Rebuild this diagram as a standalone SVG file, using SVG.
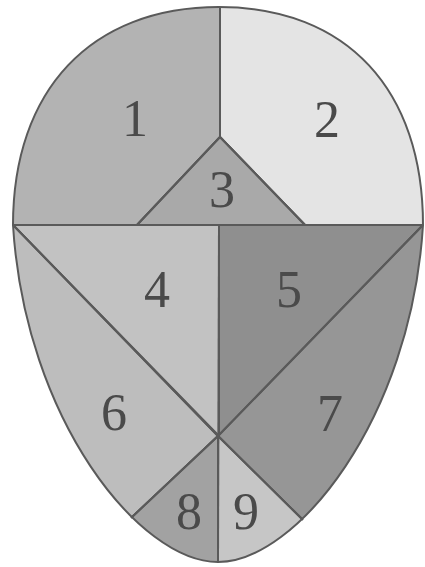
<svg xmlns="http://www.w3.org/2000/svg" width="425" height="567" viewBox="0 0 425 567">
<style>
.r{stroke:#5a5a5a;stroke-width:2;stroke-linejoin:round}
.l{stroke:#5a5a5a;stroke-width:2;fill:none}
.t{font-family:"Liberation Serif","Times New Roman",serif;font-size:52px;fill:#4a4a4a;text-anchor:middle}
</style>
<defs>
<clipPath id="egg">
<path d="M13,225 C13,90 91,7 219,7 C347,7 423,90 423,225 C411,420 296,562 218,562 C140,562 25,420 13,225 Z"/>
</clipPath>
</defs>
<rect width="425" height="567" fill="#ffffff"/>
<g clip-path="url(#egg)">
<g id="region1"><polygon class="r" points="0,0 220,0 220,137 137,225 0,225" fill="#b3b3b3"/></g>
<g id="region2"><polygon class="r" points="220,0 425,0 425,225 305,225 220,137" fill="#e4e4e4"/></g>
<g id="region3"><polygon class="r" points="220,137 137,225 305,225" fill="#a9a9a9"/></g>
<g id="region4"><polygon class="r" points="13,225 219,225 219,436" fill="#c2c2c2"/></g>
<g id="region5"><polygon class="r" points="219,225 423,225 219,436" fill="#8f8f8f"/></g>
<g id="region6"><polygon class="r" points="0,225 13,225 218,436 131,518 0,567" fill="#bdbdbd"/></g>
<g id="region7"><polygon class="r" points="423,225 425,225 425,567 303,520 218,436" fill="#969696"/></g>
<g id="region8"><polygon class="r" points="218,436 131,518 120,567 218,567" fill="#a2a2a2"/></g>
<g id="region9"><polygon class="r" points="218,436 303,520 320,567 218,567" fill="#c6c6c6"/></g>
</g>
<g id="connectors">
<path class="l" d="M13,225 C13,90 91,7 219,7 C347,7 423,90 423,225 C411,420 296,562 218,562 C140,562 25,420 13,225 Z"/>
<line class="l" x1="220" y1="7" x2="220" y2="137"/>
<polyline class="l" points="137,225 220,137 305,225"/>
<line class="l" x1="13" y1="225" x2="423" y2="225"/>
<line class="l" x1="219" y1="225" x2="218" y2="562"/>
<polyline class="l" points="13,225 218,436 303,520"/>
<polyline class="l" points="423,225 218,436 131,518"/>
</g>
<g id="labels">
<text class="t" x="135" y="136">1</text>
<text class="t" x="327" y="137">2</text>
<text class="t" x="222" y="207">3</text>
<text class="t" x="157" y="307">4</text>
<text class="t" x="289" y="307">5</text>
<text class="t" x="114" y="430">6</text>
<text class="t" x="330" y="431">7</text>
<text class="t" x="189" y="529">8</text>
<text class="t" x="246" y="529">9</text>
</g>
</svg>
